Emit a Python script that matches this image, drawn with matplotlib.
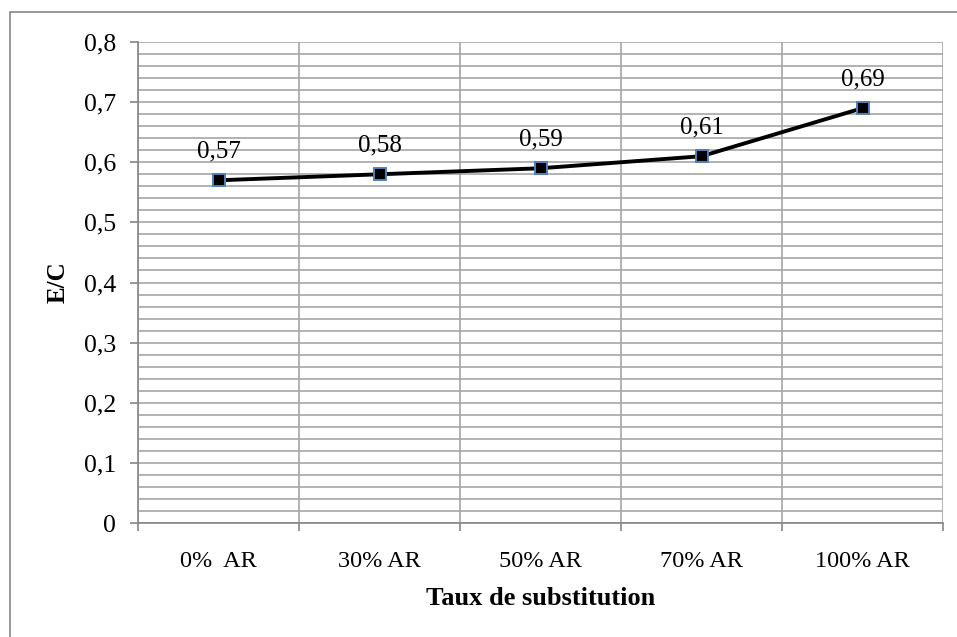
import matplotlib
matplotlib.use("Agg")
import matplotlib.pyplot as plt
from matplotlib.ticker import MultipleLocator, FixedLocator, FuncFormatter
from matplotlib.patches import Rectangle

categories = ["0%  AR", "30% AR", "50% AR", "70% AR", "100% AR"]
values = [0.57, 0.58, 0.59, 0.61, 0.69]
value_labels = ["0,57", "0,58", "0,59", "0,61", "0,69"]

plt.rcParams['font.family'] = ['Liberation Serif', 'DejaVu Serif']

fig = plt.figure(figsize=(9.57, 6.37), dpi=100)
ax = fig.add_axes([138/957, 1 - 523/637, (943-138)/957, (523-42)/637])

x = list(range(len(categories)))
ax.plot(x, values, color='black', lw=2.8, marker='s', markersize=9,
        markerfacecolor='black', markeredgecolor='#4F81BD', markeredgewidth=1.4, zorder=5)
for xi, v, lab in zip(x, values, value_labels):
    ax.annotate(lab, (xi, v), xytext=(0, 13), textcoords='offset points',
                ha='center', va='bottom', fontsize=18)

ax.set_xlim(-0.5, len(categories) - 0.5)
ax.set_ylim(0, 0.8)
ax.yaxis.set_major_locator(MultipleLocator(0.1))
ax.yaxis.set_minor_locator(MultipleLocator(0.02))
ax.yaxis.set_major_formatter(FuncFormatter(lambda v, p: ('%g' % round(v, 1)).replace('.', ',')))
ax.set_xticks(x)
ax.set_xticklabels(categories)
ax.xaxis.set_minor_locator(FixedLocator([i - 0.5 for i in range(len(categories) + 1)]))

gc = '#a6a6a6'
ax.grid(which='major', axis='y', color=gc, lw=1.2)
ax.grid(which='minor', axis='y', color=gc, lw=1.2)
ax.grid(which='minor', axis='x', color=gc, lw=1.2)
ax.set_axisbelow(True)

for s in ['top', 'right']:
    ax.spines[s].set_visible(False)
for s in ['left', 'bottom']:
    ax.spines[s].set_color('#868686')
    ax.spines[s].set_linewidth(1.2)

ax.tick_params(axis='y', which='major', length=6, color='#868686', width=1.2, labelsize=18.5, pad=10)
ax.tick_params(axis='y', which='minor', length=0)
ax.tick_params(axis='x', which='major', length=0, labelsize=17.5, pad=20)
ax.tick_params(axis='x', which='minor', length=6, color='#868686', width=1.2)

ax.set_ylabel('E/C', fontsize=18, fontweight='bold', labelpad=10)
ax.set_xlabel('Taux de substitution', fontsize=19, fontweight='bold', labelpad=11)

fig.patches.append(Rectangle((10/957, -0.05), 1.2, 1 - 12/637 + 0.05, transform=fig.transFigure,
                             fill=False, edgecolor='#868686', lw=1.2))

fig.savefig('out.png', dpi=100)
